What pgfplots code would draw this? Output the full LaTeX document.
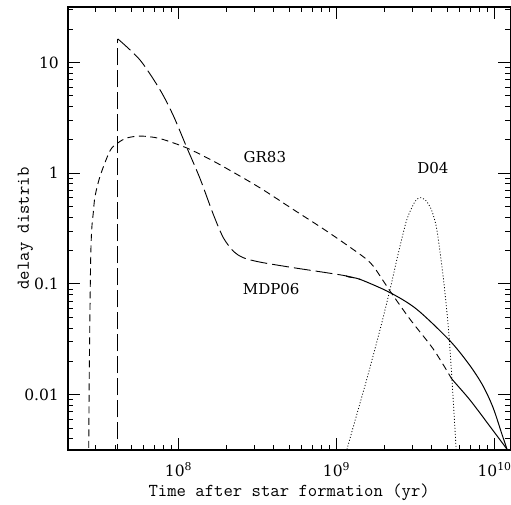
\documentclass[border=0pt]{standalone}
\usepackage{pgfplots}
\pgfplotsset{compat=1.18}
\usepackage{fontspec}
\setmainfont{DejaVu Serif}
\begin{document}
\begin{tikzpicture}
\path[use as bounding box] (-68pt,-54pt) rectangle (443pt,450pt);
\begin{axis}[
  at={(0pt,0pt)}, anchor=south west,
  scale only axis, width=442.4pt, height=443pt,
  xmode=log, ymode=log,
  xmin=2e7, xmax=1.2589e10, ymin=0.0031623, ymax=31.623,
  xtick={1e8,1e9,1e10},
  xticklabels={10\textsuperscript{8},10\textsuperscript{9},10\textsuperscript{10}},
  ytick={0.01,0.1,1,10}, yticklabels={0.01,0.1,1,10},
  minor xtick={3e7,4e7,5e7,6e7,7e7,8e7,9e7,2e8,3e8,4e8,5e8,6e8,7e8,8e8,9e8,2e9,3e9,4e9,5e9,6e9,7e9,8e9,9e9},
  minor ytick={0.004,0.005,0.006,0.007,0.008,0.009,0.02,0.03,0.04,0.05,0.06,0.07,0.08,0.09,0.2,0.3,0.4,0.5,0.6,0.7,0.8,0.9,2,3,4,5,6,7,8,9,20,30},
  tick align=inside, xtick pos=both, ytick pos=both,
  major tick length=12pt, minor tick length=5pt,
  every tick/.style={black, line width=0.8pt},
  axis line style={line width=1.1pt},
  ticklabel style={font=\fontsize{15.5}{18}\selectfont},
  xticklabel style={anchor=base, inner sep=0pt, yshift=-26pt},
  yticklabel style={anchor=east, inner sep=0pt, xshift=-9pt},
  xlabel={Time after star formation (yr)},
  ylabel={delay distrib},
  xlabel style={font=\ttfamily\fontsize{18.2}{20}\selectfont, at={(axis description cs:0.5,0)}, anchor=base, yshift=-46pt},
  ylabel style={font=\ttfamily\fontsize{18.2}{20}\selectfont, at={(axis description cs:-0.0882,0.5)}, anchor=base},
]
% MDP06 long dashed: vertical rise
\addplot[black, line width=0.9pt, dash pattern=on 17pt off 5pt] coordinates {
(4.13e7,0.001) (4.13e7,16.3)
};
% MDP06 long dashed
\addplot[black, line width=0.9pt, dash pattern=on 17pt off 5pt, smooth, tension=0.5] coordinates {
(4.13e7,16.3) (5.71e7,10.5) (7.64e7,5.65) (9.28e7,3.30) (1.127e8,1.71)
(1.369e8,0.892) (1.662e8,0.4227) (1.923e8,0.2607) (2.224e8,0.1975) (2.574e8,0.1722)
(3.282e8,0.1572) (5.33e8,0.140) (8.68e8,0.126) (1.15e9,0.118) (1.41e9,0.1098)
};
% MDP06 solid continuation
\addplot[black, line width=1pt, smooth, tension=0.5] coordinates {
(1.15e9,0.118) (1.2e9,0.1153) (1.41e9,0.1098) (2.18e9,0.0834) (3.22e9,0.0589) (5.23e9,0.0305)
(7.0e9,0.0182) (8.47e9,0.0119) (9.79e9,0.0076) (1.112e10,0.00440) (1.195e10,0.00323) (1.22e10,0.0027)
};
% GR83 short dashed
\addplot[black, line width=0.9pt, dash pattern=on 7pt off 4.5pt, smooth, tension=0.5] coordinates {
(2.69e7,0.001) (2.71e7,0.005) (2.73e7,0.0196) (2.78e7,0.156) (2.825e7,0.31) (2.89e7,0.438) (2.965e7,0.618)
(3.2e7,0.95) (3.69e7,1.595) (4.13e7,1.87) (4.70e7,2.075) (5.79e7,2.16) (7.64e7,2.05)
(1.128e8,1.687) (1.584e8,1.33) (2.02e8,1.10) (3.28e8,0.736) (5.33e8,0.469) (8.68e8,0.299)
(1.41e9,0.1845) (1.63e9,0.156) (1.798e9,0.1304) (2.18e9,0.0861) (2.92e9,0.0478)
(4.10e9,0.0257) (5.3e9,0.0142)
};
% GR83 solid continuation
\addplot[black, line width=1pt, smooth, tension=0.5] coordinates {
(5.3e9,0.0142) (5.5e9,0.01327) (7.0e9,0.00891) (9.38e9,0.00513) (1.195e10,0.00323) (1.22e10,0.0031)
};
% D04 dotted
\addplot[black, line width=0.8pt, dash pattern=on 1pt off 2pt, smooth, tension=0.4] coordinates {
(1.14e9,0.0025) (1.166e9,0.00323) (1.554e9,0.0138) (1.887e9,0.0389) (2.18e9,0.0892)
(2.463e9,0.191) (2.784e9,0.381) (3.14e9,0.557) (3.4e9,0.6) (3.7e9,0.56) (4.0e9,0.46)
(4.31e9,0.31) (4.75e9,0.1098) (5.11e9,0.0389) (5.37e9,0.0138) (5.71e9,0.00323) (5.75e9,0.0025)
};
\node[font=\fontsize{15}{18}\selectfont] at (axis cs:3.52e8,1.41) {GR83};
\node[font=\fontsize{15}{18}\selectfont] at (axis cs:3.86e8,0.0897) {MDP06};
\node[font=\fontsize{15}{18}\selectfont] at (axis cs:4.07e9,1.116) {D04};
\end{axis}
\end{tikzpicture}
\end{document}
